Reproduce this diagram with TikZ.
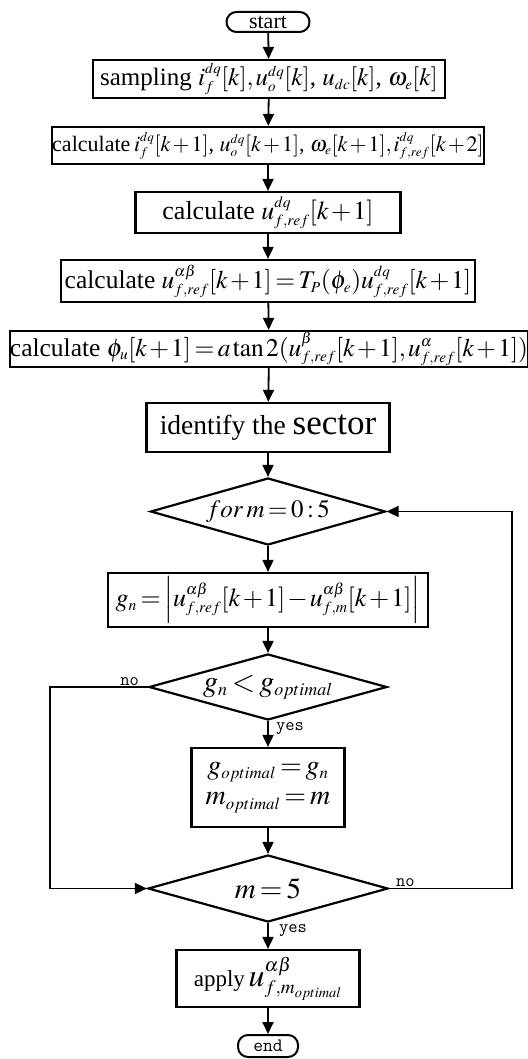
\documentclass[tikz,border=0pt]{standalone}
\usepackage{mathptmx}
\usepackage{fontspec}
\setmainfont{Liberation Serif}
\usetikzlibrary{arrows.meta,shapes.geometric}
\renewcommand{\defaultscriptratio}{.6}
\renewcommand{\defaultscriptscriptratio}{.45}
\newcommand{\fsz}[1]{\fontsize{#1}{1.15\dimexpr#1pt\relax}\selectfont}
\tikzset{
  proc/.style={draw,line width=2.2pt,inner sep=0pt,align=center},
  decide/.style={draw,diamond,aspect=3.5,line width=2.2pt,inner sep=0pt},
  term/.style={draw,rounded corners=10pt,line width=2pt,inner sep=0pt},
  link/.style={line width=1.8pt,-{Triangle[length=12pt,width=11pt]}},
  back/.style={line width=1.5pt,-{Triangle[length=12pt,width=11pt]}},
  lbl/.style={font=\ttfamily\fsz{18},inner sep=0pt}
}

\begin{document}
\begin{tikzpicture}[x=1pt,y=-1pt]
  \medmuskip=1.5mu \thickmuskip=2.5mu \thinmuskip=1.5mu
  \useasboundingbox (0,0) rectangle (527,1059);
  \node[term,minimum width=83pt,minimum height=20pt,font=\fsz{22}] (start) at (268,22) {start};
  \node[proc,minimum width=352pt,minimum height=38pt,font=\fsz{25}] (samp) at (269,79)
    {sampling $i_f^{dq}[k], u_o^{dq}[k]$, $u_{dc}[k]$, $\omega_e[k]$};
  \node[proc,minimum width=431pt,minimum height=37pt,font=\fsz{22}] (calcx) at (268,145.5)
    {calculate\,$i_f^{dq}[k+1]$, $u_o^{dq}[k+1]$, $\omega_e[k+1], i_{f,ref}^{dq}[k+2]$};
  \node[proc,minimum width=265pt,minimum height=41pt,font=\fsz{26}] (calcu) at (268,212.5)
    {calculate $u_{f,ref}^{dq}[k+1]$};
  \node[proc,minimum width=414pt,minimum height=42pt,font=\fsz{25.5}] (calcab) at (268,281)
    {calculate $u_{f,ref}^{\alpha\beta}[k+1]=T_P(\phi_e)u_{f,ref}^{dq}[k+1]$};
  \node[proc,minimum width=512pt,minimum height=36pt,font=\fsz{25.5}] (calcphi) at (269,349)
    {calculate $\phi_u[k+1]=a\tan 2(u_{f,ref}^{\beta}[k+1],u_{f,ref}^{\alpha}[k+1])$};
  \node[proc,minimum width=243pt,minimum height=49pt,font=\fsz{27.5}] (sector) at (268,427.5)
    {identify the {\fsz{35}sector}};
  \node[decide,minimum width=235pt,minimum height=67pt,font=\fsz{25}] (loop) at (268,511.5)
    {$for\;m=0:5$};
  \node[proc,minimum width=320pt,minimum height=54pt,font=\fsz{26}] (cost) at (268,600)
    {$g_n=\Big|u_{f,ref}^{\alpha\beta}[k+1]-u_{f,m}^{\alpha\beta}[k+1]\Big|$};
  \node[decide,minimum width=238pt,minimum height=66pt,font=\fsz{30}] (cmp) at (268,687)
    {$g_n<g_{optimal}$};
  \node[proc,minimum width=153pt,minimum height=79pt,font=\fsz{28}] (store) at (268,787.5)
    {$g_{optimal}=g_n$\\[-2pt]$m_{optimal}=m$};
  \node[decide,minimum width=240pt,minimum height=67pt,font=\fsz{29}] (last) at (268,888.5)
    {$m=5$};
  \node[proc,minimum width=183pt,minimum height=57pt,font=\fsz{23}] (apply) at (268,978.5)
    {apply\,{\fsz{32}$u_{f,m_{optimal}}^{\alpha\beta}$}};
  \node[term,minimum width=60pt,minimum height=22pt,font=\ttfamily\fsz{19}] (end) at (268,1046) {end};

  \coordinate (leftx) at (50,0);
  \coordinate (rightx) at (512,0);

  \draw[link] (start) -- (samp);
  \draw[link] (samp) -- (calcx);
  \draw[link] (calcx) -- (calcu);
  \draw[link] (calcu) -- (calcab);
  \draw[link] (calcab) -- (calcphi);
  \draw[link] (calcphi) -- (sector);
  \draw[link] (sector) -- (loop);
  \draw[link] (loop) -- (cost);
  \draw[link] (cost) -- (cmp);
  \draw[link] (cmp) -- (store);
  \draw[link] (store) -- (last);
  \draw[link] (last) -- (apply);
  \draw[link] (apply) -- (end);
  \draw[back] (cmp.west) -- (cmp.west -| leftx) |- (last.west);
  \draw[back] (last.east) -- (last.east -| rightx) |- (loop.east);

  \node[lbl,anchor=south east] (nol) at (139,686) {no};
  \node[lbl,anchor=south west] (nor) at (396,887) {no};
  \node[lbl,anchor=north west] (yesa) at (276,722) {yes};
  \node[lbl,anchor=north west] (yesb) at (279,924) {yes};
\end{tikzpicture}
\end{document}
